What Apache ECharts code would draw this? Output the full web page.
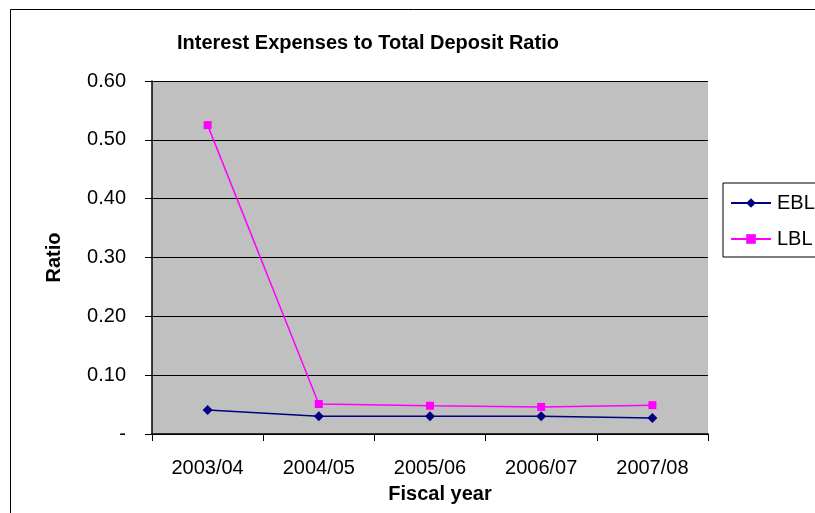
<!DOCTYPE html>
<html><head><meta charset="utf-8">
<script src="https://cdn.jsdelivr.net/npm/echarts@6/dist/echarts.min.js"></script>
<style>html,body{margin:0;padding:0;background:#fff}#c{width:815px;height:513px}</style>
</head><body><div id="c"></div>
<script>
var categories = ['2003/04','2004/05','2005/06','2006/07','2007/08'];
var eblValues = [0.041, 0.030, 0.030, 0.030, 0.027];
var lblValues = [0.525, 0.051, 0.048, 0.046, 0.049];
var yTicks = [0, 0.1, 0.2, 0.3, 0.4, 0.5, 0.6];

var chart = echarts.init(document.getElementById('c'));
var F = 'Liberation Sans, Arial, sans-serif';
chart.setOption({
  animation: false,
  backgroundColor: '#fff',
  title: {
    text: 'Interest Expenses to Total Deposit Ratio',
    left: 177, top: 33, padding: 0,
    textStyle: {fontFamily: F, fontSize: 20, fontWeight: 'bold', color: '#000'}
  },
  graphic: [{
    type: 'rect', shape: {x: 10.5, y: 9.5, width: 900, height: 600},
    style: {fill: 'none', stroke: '#000', lineWidth: 1}, z: -1
  }],
  grid: {left: 152, right: 107, top: 81, bottom: 79, show: true, backgroundColor: '#C0C0C0', borderWidth: 0},
  legend: {
    orient: 'vertical', left: 723, top: 183,
    data: ['EBL', 'LBL'],
    itemWidth: 40, itemHeight: 12, itemGap: 16,
    padding: [10, 40, 8, 7],
    borderColor: '#000', borderWidth: 1,
    textStyle: {fontFamily: F, fontSize: 20, color: '#000', padding: [0,0,0,1]}
  },
  xAxis: {
    type: 'category', data: categories, boundaryGap: true,
    name: 'Fiscal year', nameLocation: 'middle', nameGap: 50,
    nameTextStyle: {fontFamily: F, fontSize: 20, fontWeight: 'bold', color: '#000', padding: [0,0,0,20]},
    axisLine: {lineStyle: {color: '#000', width: 1.5}},
    axisTick: {show: true, length: 7, lineStyle: {color: '#000'}},
    axisLabel: {fontFamily: F, fontSize: 20, color: '#000', margin: 24}
  },
  yAxis: {
    type: 'value', min: yTicks[0], max: yTicks[yTicks.length-1], interval: 0.1,
    name: 'Ratio', nameLocation: 'middle', nameGap: 88,
    nameTextStyle: {fontFamily: F, fontSize: 20, fontWeight: 'bold', color: '#000'},
    axisLine: {show: true, lineStyle: {color: '#000', width: 1.5}},
    axisTick: {show: true, length: 7, lineStyle: {color: '#000'}},
    splitLine: {show: true, lineStyle: {color: '#000', width: 1}},
    axisLabel: {fontFamily: F, fontSize: 20, color: '#000', margin: 26,
      formatter: function(v){ return Math.abs(v) < 1e-9 ? '-' : v.toFixed(2); }}
  },
  series: [
    {name: 'EBL', type: 'line', data: eblValues, symbol: 'diamond', symbolSize: 10,
     lineStyle: {color: '#000080', width: 1.5}, itemStyle: {color: '#000080'}},
    {name: 'LBL', type: 'line', data: lblValues, symbol: 'rect', symbolSize: 8,
     lineStyle: {color: '#FF00FF', width: 1.5}, itemStyle: {color: '#FF00FF'}}
  ]
});
</script></body></html>
